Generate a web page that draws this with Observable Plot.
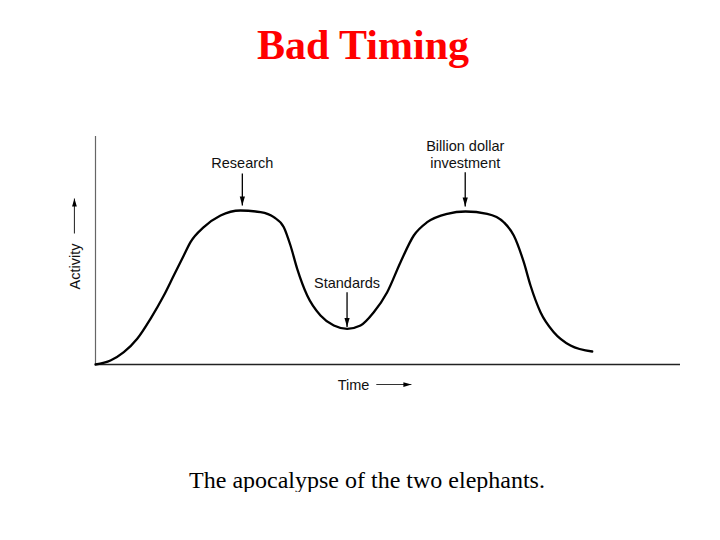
<!DOCTYPE html>
<html><head><meta charset="utf-8">
<script src="https://cdn.jsdelivr.net/npm/d3@7"></script>
<script src="https://cdn.jsdelivr.net/npm/@observablehq/plot@0.6"></script>
<style>
body{margin:0;background:#fff;width:720px;}
#title{height:66px;padding-top:24px;padding-left:6px;text-align:center;font:bold 42px/1 "Liberation Serif","Times New Roman",serif;color:#f00;}
#chart svg{display:block;}
#caption{margin-top:8px;padding-left:14px;text-align:center;font:24px/1 "Liberation Serif","Times New Roman",serif;color:#000;}
</style></head><body>
<div id="title">Bad Timing</div>
<div id="chart"></div>
<div id="caption">The apocalypse of the two elephants.</div>
<script>
// Curve: activity over time (arbitrary units 0-100)
const time = [0, 2.56, 4.84, 7.13, 9.40, 11.68, 13.38, 15.09, 16.24, 18.51, 21.37, 24.79, 28.21, 30.48, 32.19, 33.33, 34.48, 36.19, 38.46, 40.74, 43.03, 45.30, 47.57, 49.86, 52.14, 54.41, 56.70, 60.12, 63.25, 66.96, 69.79, 71.50, 73.21, 74.36, 76.07, 78.34, 81.20, 84.91];
const activity = [0, 1.75, 5.39, 11.27, 20.04, 30.26, 39.04, 47.81, 53.64, 60.22, 65.35, 67.54, 66.80, 64.61, 60.22, 52.19, 41.97, 30.26, 21.49, 17.11, 15.66, 17.11, 22.94, 31.71, 44.87, 56.58, 62.41, 66.10, 67.11, 66.10, 62.41, 56.58, 44.87, 34.65, 22.94, 14.17, 8.33, 5.70];

// Annotations
const annLabels = ["Research", "Standards", "Billion dollar\ninvestment"];
const annX = [25.1, 43.0, 63.2];
const annLabelY = [88.6, 35.8, 92.1];
const annArrowFrom = [83.8, 31.7, 84.3];
const annArrowTo = [69.7, 16.4, 69.3];

// Axis labels
const xLabel = "Time";
const yLabel = "Activity";

const curve = time.map((t, i) => ({t, a: activity[i]}));
const ann = annLabels.map((label, i) => ({label, x: annX[i], ly: annLabelY[i], y1: annArrowFrom[i], y2: annArrowTo[i]}));

const chart = Plot.plot({
  width: 720,
  height: 370,
  marginLeft: 95,
  marginRight: 40,
  marginTop: 46,
  marginBottom: 96,
  x: {domain: [0, 100], axis: null},
  y: {domain: [0, 100], axis: null},
  style: {fontFamily: "'Liberation Sans', Arial, sans-serif", fontSize: "14px", background: "#fff"},
  marks: [
    Plot.ruleY([0], {x1: 0, x2: 100, stroke: "#222", strokeWidth: 1.3}),
    Plot.ruleX([0], {y1: 0, y2: 100, stroke: "#666", strokeWidth: 1.2}),
    Plot.line(curve, {x: "t", y: "a", curve: "monotone-x", stroke: "#000", strokeWidth: 2.3}),
    // annotation arrows
    Plot.link(ann, {x1: "x", x2: "x", y1: "y1", y2: "y2", stroke: "#000", strokeWidth: 1.3}),
    Plot.vector(ann, {x: "x", y: "y2", shape: "spike", anchor: "end", length: 9, r: 2.6, rotate: 180, fill: "#000", stroke: "none"}),
    Plot.text(ann, {x: "x", y: "ly", text: "label", fontSize: 14.5, lineHeight: 1.17, fill: "#111", textAnchor: "middle", lineAnchor: "middle"}),
    // y label + arrow
    Plot.text([yLabel], {x: -3.4, y: 43, text: d => d, rotate: -90, fontSize: 14.5, fill: "#111", lineAnchor: "middle"}),
    Plot.link([0], {x1: -3.6, x2: -3.6, y1: 57.5, y2: 72.8, stroke: "#333", strokeWidth: 1.1}),
    Plot.vector([0], {x: -3.6, y: 72.8, shape: "spike", anchor: "end", length: 8, r: 2.4, rotate: 0, fill: "#000", stroke: "none"}),
    // x label + arrow
    Plot.text([xLabel], {x: 44.1, y: -9.2, text: d => d, fontSize: 14.5, fill: "#111", lineAnchor: "middle"}),
    Plot.link([0], {x1: 48.0, x2: 54.0, y1: -8.8, y2: -8.8, stroke: "#333", strokeWidth: 1.1}),
    Plot.vector([0], {x: 54.0, y: -8.8, shape: "spike", anchor: "end", length: 8, r: 2.4, rotate: 90, fill: "#000", stroke: "none"})
  ]
});
document.getElementById("chart").appendChild(chart);
</script>
</body></html>
